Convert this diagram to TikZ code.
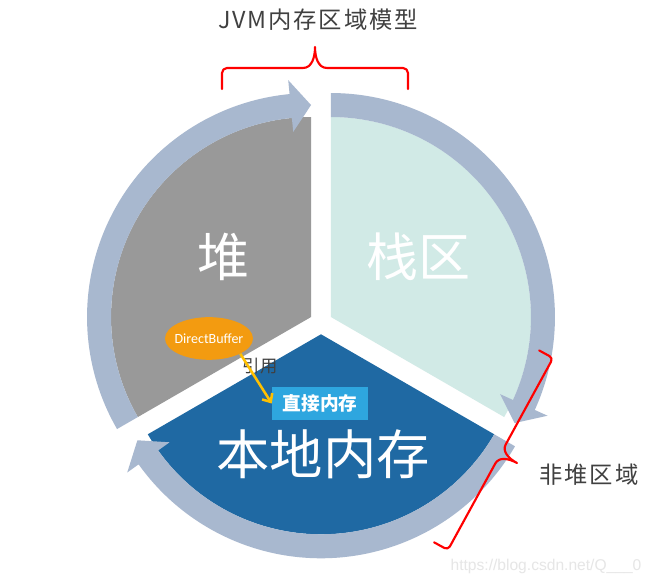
\documentclass[tikz,border=0pt]{standalone}
\usepackage{fontspec}
\newfontfamily\cjk{Noto Sans CJK SC}
\newfontfamily\cjkspaced[LetterSpace=8]{Noto Sans CJK SC}
\newfontfamily\calib{Carlito}
\newfontfamily\arialf{Liberation Sans}
\usetikzlibrary{shapes.geometric,arrows.meta}
\definecolor{bandc}{HTML}{A8B8CF}
\definecolor{heapc}{HTML}{999999}
\definecolor{stackc}{HTML}{D1EAE6}
\definecolor{nativec}{HTML}{1F69A3}
\definecolor{boxc}{HTML}{2EA6DF}
\definecolor{orangec}{HTML}{F39B10}
\definecolor{yellowc}{HTML}{FFC000}
\definecolor{darktext}{HTML}{404040}
\definecolor{wmark}{HTML}{E6E6E6}
\newcommand\cyclearrow[3]{%
  \pgfmathsetmacro\arrback{#3+5.5}%
  \begin{scope}[shift={#1}]
    \fill[bandc] (#2:224) arc[start angle=#2, end angle=\arrback, radius=224]
      -- (\arrback:238) -- (#3:212) -- (\arrback:186) -- (\arrback:200)
      arc[start angle=\arrback, end angle=#2, radius=200] -- cycle;
  \end{scope}}
\begin{document}
\begin{tikzpicture}[x=0.75pt,y=0.75pt,
  bigtext/.style={text=white, font=\cjk\fontsize{39}{44}\selectfont, inner sep=0pt},
  bracec/.style={draw=red, line width=1.6pt, line join=round, line cap=round},
  yarrow/.style={draw=yellowc, line width=1.9pt, -{Straight Barb[length=5pt,width=9pt,line width=1.9pt]}},
  darklabel/.style={text=darktext, inner sep=0pt}]
\useasboundingbox (0,0) rectangle (651,584);
\fill[white] (0,0) rectangle (651,584);
% sectors
\fill[heapc] (311.04,266.95) -- ++(90:200) arc[start angle=90, end angle=210, radius=200] -- cycle;
\fill[stackc] (330.96,266.95) -- ++(-30:200) arc[start angle=-30, end angle=90, radius=200] -- cycle;
\fill[nativec] (321,249.7) -- ++(210:200) arc[start angle=210, end angle=330, radius=200] -- cycle;
% cycle arrows
\cyclearrow{(311.04,266.95)}{210}{90}
\cyclearrow{(330.96,266.95)}{90}{-30}
\cyclearrow{(321,249.7)}{330}{210}
% texts
\node[darklabel, font=\cjkspaced\fontsize{17.5}{20}\selectfont] (title) at (318,564) {JVM内存区域模型};
\node[bigtext] (heap) at (223,327) {堆};
\node[bigtext] (stack) at (418,327) {栈区};
\node[bigtext, font=\cjk\fontsize{40}{46}\selectfont] (native) at (323,130) {本地内存};
\node[ellipse, fill=orangec, minimum width=66pt, minimum height=32pt, inner xsep=-3pt, inner ysep=0pt,
  text=white, font=\calib\fontsize{10.5}{12}\selectfont] (dbuf) at (209,245.5) {DirectBuffer};
\node[fill=boxc, minimum width=72pt, minimum height=25pt, inner sep=0pt, text=white,
  font=\cjk\bfseries\fontsize{14}{16}\selectfont] (dmem) at (320,180.5) {直接内存};
\node[darklabel, font=\cjk\fontsize{13}{15}\selectfont] (ref) at (260,218) {引用};
\draw[yarrow] (dbuf.south east) -- (dmem.west);
\node[darklabel, font=\cjkspaced\fontsize{17.5}{20}\selectfont] (nonheap) at (589,109) {非堆区域};
\node[text=wmark, inner sep=0pt, font=\arialf\fontsize{11.7}{13}\selectfont] (wm) at (546,18) {https://blog.csdn.net/Q\_\_\_0};
% top brace
\begin{scope}[shift={(315,516)}]
  \draw[bracec] (-93,-21) -- (-93,-5) arc[start angle=180, end angle=90, radius=5] -- (-12,0)
    .. controls (-3,0) and (0,11) .. (0,21) .. controls (0,11) and (3,0) .. (12,0)
    -- (88,0) arc[start angle=90, end angle=0, radius=5] -- (93,-21);
\end{scope}
% right brace
\begin{scope}[shift={(500.5,130)}, rotate=241.3]
  \draw[bracec] (-109.4,-15.8) -- (-109.4,-4) arc[start angle=180, end angle=90, radius=4] -- (-11,0)
    .. controls (-3,0) and (0,9) .. (0,18.8) .. controls (0,9) and (3,0) .. (11,0)
    -- (105.4,0) arc[start angle=90, end angle=0, radius=4] -- (109.4,-15.8);
\end{scope}
\end{tikzpicture}
\end{document}
